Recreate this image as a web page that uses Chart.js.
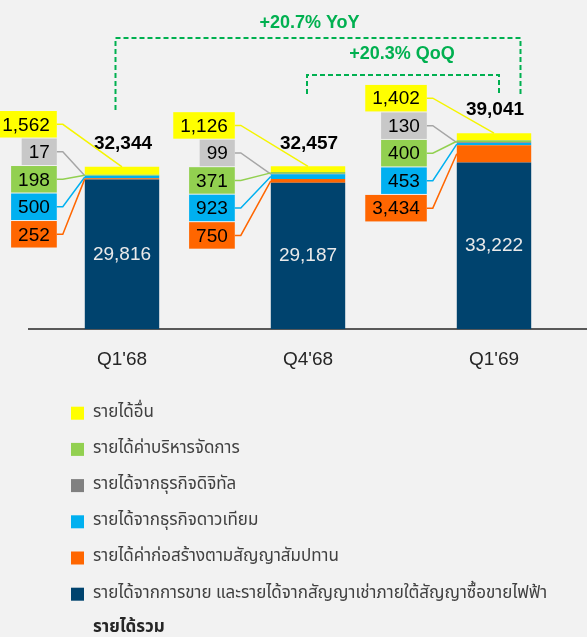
<!DOCTYPE html>
<html>
<head>
<meta charset="utf-8">
<script src="https://cdn.jsdelivr.net/npm/chart.js@4.4.0/dist/chart.umd.min.js"></script>
<style>
  html, body { margin: 0; padding: 0; background: #f2f2f2; overflow: hidden; }
  canvas { display: block; }
</style>
</head>
<body>
<canvas id="revenue" width="587" height="637"></canvas>
<script>
// revenue by quarter (million baht)
const quarters = ["Q1'68", "Q4'68", "Q1'69"];
const salesLease = [29816, 29187, 33222];
const construction = [252, 750, 3434];
const satellite = [500, 923, 453];
const digital = [17, 99, 130];
const management = [198, 371, 400];
const otherIncome = [1562, 1126, 1402];
const totalRevenue = [32344, 32457, 39041];

const seriesNames = [
    'รายได้จากการขาย และรายได้จากสัญญาเช่าภายใต้สัญญาซื้อขายไฟฟ้า',
    'รายได้ค่าก่อสร้างตามสัญญาสัมปทาน',
    'รายได้จากธุรกิจดาวเทียม',
    'รายได้จากธุรกิจดิจิทัล',
    'รายได้ค่าบริหารจัดการ',
    'รายได้อื่น'
];
const totalName = 'รายได้รวม';
const growthNotes = ['+20.7% YoY', '+20.3% QoQ'];

const barColors = ['#00436e', '#ff6600', '#00b0f0', '#808080', '#92d050', '#ffff00'];
const boxColors = ['#00436e', '#ff6600', '#00b0f0', '#c8c8c8', '#92d050', '#ffff00'];
const lineColors = ['#00436e', '#ff6600', '#00b0f0', '#a6a6a6', '#92d050', '#f5f500'];

const LATIN = '"Liberation Sans", Arial, sans-serif';
const THAI = '"Noto Sans Thai", "Noto Sans", Tahoma, sans-serif';
const fmt = v => v.toLocaleString('en-US');

// callout column: dataset indexes from top to bottom
const calloutOrder = [5, 3, 4, 2, 1];
const calloutGap = [28, 36, 30];
const calloutDrop = [68, 66, 59];

const annotate = {
    id: 'annotate',
    afterDatasetsDraw(chart) {
        const ctx = chart.ctx;
        const metas = chart.data.datasets.map((d, i) => chart.getDatasetMeta(i));
        ctx.save();
        ctx.textAlign = 'center';
        ctx.textBaseline = 'middle';

        quarters.forEach((q, j) => {
            const navy = metas[0].data[j];
            const topEl = metas[5].data[j];
            const left = navy.x - navy.width / 2;

            ctx.fillStyle = '#eaeaea';
            ctx.font = '19px ' + LATIN;
            ctx.fillText(fmt(salesLease[j]), navy.x, (navy.y + navy.base) / 2);

            ctx.fillStyle = '#000000';
            ctx.font = 'bold 19px ' + LATIN;
            ctx.fillText(fmt(totalRevenue[j]), navy.x + 1, topEl.y - 23);

            const right = left - calloutGap[j];
            const bottom = navy.y + calloutDrop[j];
            const pitch = 27.5, h = 26.5;
            ctx.font = '19px ' + LATIN;
            calloutOrder.forEach((di, k) => {
                const el = metas[di].data[j];
                const val = chart.data.datasets[di].data[j];
                const label = fmt(val);
                const w = ctx.measureText(label).width + 14;
                const boxTop = bottom - h - (calloutOrder.length - 1 - k) * pitch;
                const midY = boxTop + h / 2;
                let ex, ey;
                if (di === 5) { ex = navy.x; ey = el.y; }
                else { ex = left; ey = (el.y + el.base) / 2; }
                ctx.strokeStyle = lineColors[di];
                ctx.lineWidth = 1.5;
                ctx.beginPath();
                ctx.moveTo(right, midY);
                ctx.lineTo(right + 6, midY);
                ctx.lineTo(ex, ey);
                ctx.stroke();
                ctx.fillStyle = boxColors[di];
                ctx.fillRect(right - w, boxTop, w, h);
                ctx.fillStyle = '#000000';
                ctx.fillText(label, right - w / 2, midY + 1);
            });
        });

        // growth brackets
        const c = metas[0].data.map(el => el.x);
        ctx.strokeStyle = '#00b050';
        ctx.lineWidth = 2;
        ctx.setLineDash([5, 3]);
        ctx.beginPath();
        ctx.moveTo(c[0] - 6.5, 110);
        ctx.lineTo(c[0] - 6.5, 38);
        ctx.lineTo(c[2] + 26.5, 38);
        ctx.lineTo(c[2] + 26.5, 94);
        ctx.stroke();
        ctx.beginPath();
        ctx.moveTo(c[1] - 1, 94);
        ctx.lineTo(c[1] - 1, 75);
        ctx.lineTo(c[2] + 5, 75);
        ctx.lineTo(c[2] + 5, 94);
        ctx.stroke();
        ctx.setLineDash([]);
        ctx.fillStyle = '#00b050';
        ctx.font = 'bold 18px ' + LATIN;
        ctx.fillText(growthNotes[0], c[1] + 1.5, 23);
        ctx.fillText(growthNotes[1], (c[1] + c[2]) / 2 + 1, 54);
        ctx.restore();
    }
};

const legendRows = {
    id: 'legendRows',
    afterDraw(chart) {
        const ctx = chart.ctx;
        const x0 = chart.chartArea.left + 42;
        const y0 = chart.chartArea.bottom + 84;
        const pitch = 36.2;
        ctx.save();
        ctx.textAlign = 'left';
        ctx.textBaseline = 'middle';
        const items = chart.data.datasets.slice().reverse();
        items.forEach((ds, i) => {
            const y = y0 + i * pitch;
            ctx.fillStyle = ds.backgroundColor;
            ctx.fillRect(x0, y - 6.5, 13, 13);
            ctx.fillStyle = '#404040';
            ctx.font = '17px ' + THAI;
            ctx.fillText(ds.label, x0 + 22, y);
        });
        ctx.fillStyle = '#262626';
        ctx.font = 'bold 17px ' + THAI;
        ctx.fillText(totalName, x0 + 22, y0 + items.length * pitch - 2);
        ctx.restore();
    }
};

const series = [salesLease, construction, satellite, digital, management, otherIncome];

const ctx = document.getElementById('revenue').getContext('2d');
const revenueChart = new Chart(ctx, {
    type: 'bar',
    data: {
        labels: quarters,
        datasets: series.map((values, i) => ({
            label: seriesNames[i],
            data: values,
            backgroundColor: barColors[i],
            borderWidth: 0,
            barPercentage: 1,
            categoryPercentage: 0.4
        }))
    },
    options: {
        responsive: false,
        animation: false,
        layout: {
            padding: { left: 29, right: -4, top: 28, bottom: 247 }
        },
        plugins: {
            legend: { display: false },
            tooltip: { enabled: false }
        },
        scales: {
            x: {
                stacked: true,
                grid: { display: false, drawTicks: false },
                border: { display: true, color: '#595959', width: 2 },
                ticks: {
                    color: '#262626',
                    font: { family: LATIN, size: 19 },
                    padding: 19
                }
            },
            y: {
                stacked: true,
                display: false,
                min: 0,
                max: 60000
            }
        }
    },
    plugins: [annotate, legendRows]
});
</script>
</body>
</html>
